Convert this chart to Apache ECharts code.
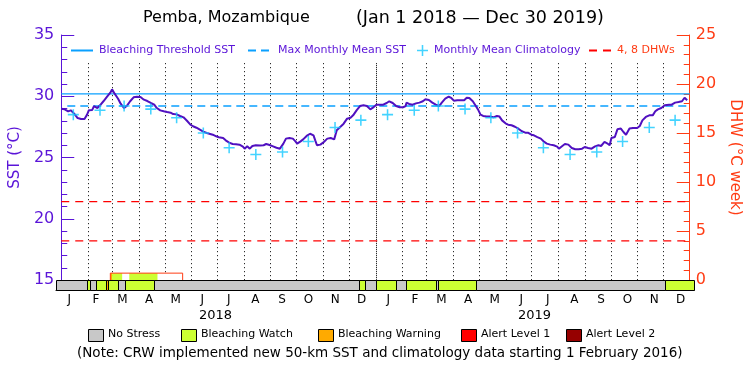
<!DOCTYPE html>
<html>
<head>
<meta charset="utf-8">
<script src="https://cdn.jsdelivr.net/npm/echarts@6/dist/echarts.min.js"></script>
<style>
  html, body { margin: 0; padding: 0; background: #fff; }
  #chart { width: 750px; height: 375px; }
</style>
</head>
<body>
<div id="chart"></div>
<script>
// ---- data ----
// SST samples, day offset from 1 Jan 2018
const sstDays = [0,4,8,11,15,19,23,27,30,32,36,38,42,45,49,53,57,59,62,66,69,73,76,80,84,88,92,96,100,104,108,111,115,119,123,127,130,134,138,142,146,150,153,157,161,165,169,172,176,180,
  183,188,191,195,199,203,207,211,213,216,219,222,226,231,235,238,242,246,250,254,256,258,261,265,269,272,274,278,281,285,289,293,295,297,301,305,309,313,317,319,320,324,328,332,336,339,343,347,351,355,359,362,
  366,370,374,378,381,385,389,393,397,400,401,404,408,412,416,420,423,427,431,435,439,442,446,450,453,456,460,464,468,471,474,478,481,484,487,490,494,498,502,506,509,512,516,519,523,527,531,535,539,542,546,
  549,553,557,561,564,568,572,576,578,582,585,589,593,597,601,605,608,612,616,620,624,627,631,634,637,639,643,646,650,653,656,660,664,669,672,675,679,683,687,690,693,697,701,706,709,713,717,721,724,727];
const sstValues = [28.98,28.93,28.77,28.85,28.58,28.22,28.14,28.14,28.5,28.85,28.88,29.2,29.04,29.26,29.59,29.94,30.29,30.56,30.21,29.8,29.39,29.04,29.2,29.59,29.91,29.96,29.94,29.72,29.61,29.45,29.31,29.04,28.85,28.77,28.71,28.66,28.55,28.52,28.39,28.28,28.0,27.68,27.55,27.43,27.27,27.11,27.0,26.94,26.86,26.73,
  26.65,26.59,26.4,26.21,26.1,26.08,26.05,25.89,25.72,25.91,25.72,25.94,26.0,25.98,26.0,26.1,26.02,25.91,25.8,25.72,25.67,26.13,26.54,26.59,26.54,26.32,26.13,26.32,26.48,26.76,26.94,26.81,26.4,26.0,26.05,26.27,26.54,26.59,26.48,26.4,27.22,27.49,27.76,28.17,28.25,28.44,28.85,29.2,29.26,29.2,28.93,29.07,
  29.31,29.31,29.31,29.45,29.59,29.45,29.2,29.1,29.1,29.2,29.48,29.37,29.31,29.42,29.48,29.59,29.75,29.7,29.48,29.31,29.2,29.48,29.8,29.96,29.86,29.64,29.67,29.67,29.67,29.88,29.86,29.59,29.26,28.93,28.5,28.39,28.34,28.34,28.28,28.39,28.34,28.03,27.79,27.68,27.63,27.51,27.35,27.14,27.03,27.03,26.86,
  26.81,26.67,26.54,26.27,26.13,26.05,26.0,25.89,25.72,25.94,26.1,26.05,25.78,25.67,25.67,25.72,25.86,25.78,25.72,25.91,26.0,25.94,26.27,26.16,26.0,26.59,26.67,27.3,27.36,27.08,26.86,27.36,27.41,27.41,27.57,28.03,28.31,28.44,28.44,28.77,28.93,29.04,29.26,29.31,29.31,29.48,29.53,29.59,29.88,29.67];

// monthly mean climatology (Jan..Dec), plotted mid-month each year
const climMonthly = [28.5, 28.85, 29.2, 28.95, 28.25, 27.0, 25.8, 25.25, 25.45, 26.3, 27.45, 28.05];
const years = [2018, 2019];
const monthLetters = ['J','F','M','A','M','J','J','A','S','O','N','D'];

const mmmValue = 29.2;        // max monthly mean
const thresholdValue = 30.2;  // bleaching threshold
const dhwLevels = [4, 8];

// stress level strip: day ranges and level (0 none, 1 watch, 2 warning, 3 alert1, 4 alert2)
const alertStart = [0,36,39,46,57,59,71,79,112,347,354,366,389,400,435,437,480,697];
const alertEnd   = [36,39,46,57,59,71,79,112,347,354,366,389,400,435,437,480,697,730];
const alertLevel = [0,1,0,1,2,1,0,1,0,1,0,1,0,1,0,1,0,1];
const levelNames = ['No Stress','Bleaching Watch','Bleaching Warning','Alert Level 1','Alert Level 2'];

// degree heating weeks episode
const dhwStart = 57, dhwEnd = 141, dhwValue = 0.7;

// ---- styling ----
const levelColors = ['#c8c8c8','#ccff33','#ffaa00','#ff0000','#960000'];
const purple = '#5a14d8';
const sstColor = '#5010c0';
const blue = '#0aa0ff';
const cyan = '#14c8ff';
const orange = '#ff3c14';
const FONT = 'DejaVu Sans';

const DAY = 86400000;
const t0 = new Date(2018, 0, 1).getTime();
const tEnd = new Date(2020, 0, 1).getTime();
const dayToTime = d => t0 + d * DAY;

const sstData = sstDays.map((d, i) => [dayToTime(d), sstValues[i]]);
const climData = [];
years.forEach(y => climMonthly.forEach((v, m) => climData.push([new Date(y, m, 15).getTime(), v])));
const monthStarts = [];
years.forEach(y => { for (let m = 0; m < 12; m++) if (!(y === 2018 && m === 0)) monthStarts.push([new Date(y, m, 1).getTime(), 15]); });
const monthCats = [];
years.forEach(() => monthLetters.forEach(l => monthCats.push(l)));
const stripData = alertStart.map((s, i) => [dayToTime(s), dayToTime(alertEnd[i]), alertLevel[i]]);

const plusPath = 'path://M4.3,0H5.7V4.3H10V5.7H5.7V10H4.3V5.7H0V4.3H4.3Z';

const chart = echarts.init(document.getElementById('chart'));

const legendBase = (left, name, w, color, showSymbol) => ({
  left: left, top: 45, itemWidth: w, itemHeight: 12, itemGap: 0, padding: 0,
  data: [name],
  itemStyle: showSymbol ? {} : { opacity: 0 },
  textStyle: { fontFamily: FONT, fontSize: 11, color: color, padding: [0, 0, 0, 1] }
});

// bottom legend boxes
const boxLeft = [88, 181, 318, 461, 566];
const legendGraphics = [];
levelNames.forEach((n, i) => {
  legendGraphics.push({ type: 'rect', left: boxLeft[i], top: 329, shape: { width: 15, height: 12 },
    style: { fill: levelColors[i], stroke: '#000', lineWidth: 1 } });
  legendGraphics.push({ type: 'text', left: boxLeft[i] + 20, top: 329,
    style: { text: n, font: '11px "' + FONT + '"', fill: '#000' } });
});
legendGraphics.push({ type: 'text', left: 77, top: 346,
  style: { text: '(Note: CRW implemented new 50-km SST and climatology data starting 1 February 2016)',
    font: '13.5px "' + FONT + '"', fill: '#000' } });

const option = {
  animation: false,
  backgroundColor: '#fff',
  title: [
    { text: 'Pemba, Mozambique', left: 143, top: 10, padding: 0,
      textStyle: { fontFamily: FONT, fontSize: 16, fontWeight: 'normal', color: '#000' } },
    { text: '(Jan 1 2018 \u2014 Dec 30 2019)', left: 356, top: 9, padding: 0,
      textStyle: { fontFamily: FONT, fontSize: 17.5, fontWeight: 'normal', color: '#000' } }
  ],
  legend: [
    legendBase(70, 'Bleaching Threshold SST', 22, purple, false),
    legendBase(247, 'Max Monthly Mean SST', 24, purple, false),
    legendBase(417, 'Monthly Mean Climatology', 11, purple, true),
    legendBase(588, '4, 8 DHWs', 22, orange, false)
  ],
  grid: [
    { left: 56, right: 56, top: 35, height: 245 },
    { left: 56, right: 56, top: 280, height: 10 }
  ],
  xAxis: [
    { type: 'time', gridIndex: 0, min: t0, max: tEnd, position: 'top',
      axisLine: { show: true, lineStyle: { color: '#000', width: 1 } },
      axisTick: { show: false }, axisLabel: { show: false }, splitLine: { show: false } },
    { type: 'time', gridIndex: 1, min: t0, max: tEnd, position: 'bottom',
      axisLine: { show: true, lineStyle: { color: '#000', width: 1 } },
      axisTick: { show: false }, axisLabel: { show: false }, splitLine: { show: false } },
    { type: 'category', gridIndex: 1, position: 'bottom', data: monthCats, boundaryGap: true,
      axisLine: { show: false }, axisTick: { show: false },
      axisLabel: { interval: 0, margin: 4, fontFamily: FONT, fontSize: 12, color: '#000' } },
    { type: 'category', gridIndex: 1, position: 'bottom', offset: 17, data: years.map(String), boundaryGap: true,
      axisLine: { show: false }, axisTick: { show: false },
      axisLabel: { interval: 0, margin: 2, fontFamily: FONT, fontSize: 13, color: '#000' } }
  ],
  yAxis: [
    { type: 'value', gridIndex: 0, min: 15, max: 35, interval: 5, position: 'left',
      name: 'SST (\u00b0C)', nameLocation: 'middle', nameGap: 31, nameRotate: 90,
      nameTextStyle: { fontFamily: FONT, fontSize: 15, color: purple },
      axisLine: { show: true, lineStyle: { color: purple, width: 1 } },
      axisTick: { show: true, inside: true, length: 13, lineStyle: { color: purple } },
      minorTick: { show: true, splitNumber: 5, length: 6, lineStyle: { color: purple } },
      axisLabel: { margin: 7, fontFamily: FONT, fontSize: 16, color: purple },
      splitLine: { show: false } },
    { type: 'value', gridIndex: 0, min: 0, max: 25, interval: 5, position: 'right',
      name: 'DHW (\u00b0C week)', nameLocation: 'middle', nameGap: 29, nameRotate: -90,
      nameTextStyle: { fontFamily: FONT, fontSize: 15, color: orange },
      axisLine: { show: true, lineStyle: { color: orange, width: 1 } },
      axisTick: { show: true, inside: true, length: 13, lineStyle: { color: orange } },
      minorTick: { show: true, splitNumber: 5, length: 6, lineStyle: { color: orange } },
      axisLabel: { margin: 6, fontFamily: FONT, fontSize: 16, color: orange },
      splitLine: { show: false } },
    { type: 'value', gridIndex: 1, min: 0, max: 1, show: false }
  ],
  graphic: legendGraphics,
  series: [
    { // month boundaries
      type: 'custom', xAxisIndex: 0, yAxisIndex: 0, silent: true, z: 1,
      data: monthStarts,
      encode: { x: 0, y: 1 },
      renderItem: (params, api) => {
        const t = api.value(0);
        const a = api.coord([t, 32.7]);
        const b = api.coord([t, 15]);
        const x = Math.round(a[0]) + 0.5;
        const yearLine = new Date(t).getMonth() === 0;
        return { type: 'line', shape: { x1: x, y1: a[1], x2: x, y2: b[1] },
          style: { stroke: '#000', lineWidth: 1, lineDash: yearLine ? [1, 1] : [1, 3] } };
      }
    },
    { // DHW fill coloured by stress level
      type: 'custom', xAxisIndex: 0, yAxisIndex: 1, silent: true, z: 2,
      data: stripData,
      encode: { x: [0, 1] },
      renderItem: (params, api) => {
        const s = Math.max(api.value(0), dayToTime(dhwStart));
        const e = Math.min(api.value(1), dayToTime(dhwEnd));
        if (e <= s) return null;
        const lv = api.value(2);
        const p1 = api.coord([s, dhwValue]);
        const p2 = api.coord([e, 0]);
        return { type: 'rect', shape: { x: p1[0], y: p1[1], width: p2[0] - p1[0], height: p2[1] - p1[1] },
          style: { fill: lv === 0 ? '#fff' : levelColors[lv] } };
      }
    },
    { name: 'DHW', type: 'line', xAxisIndex: 0, yAxisIndex: 1, symbol: 'none', z: 3,
      data: [[dayToTime(dhwStart), 0], [dayToTime(dhwStart), dhwValue], [dayToTime(dhwEnd), dhwValue], [dayToTime(dhwEnd), 0]],
      lineStyle: { color: orange, width: 1 } },
    { name: '4, 8 DHWs', type: 'line', xAxisIndex: 0, yAxisIndex: 1, symbol: 'none', z: 3,
      data: [[t0, dhwLevels[0]], [tEnd, dhwLevels[0]]],
      lineStyle: { color: '#f00', width: 1.2, type: [8, 6] }, itemStyle: { color: '#f00' } },
    { name: '4, 8 DHWs', type: 'line', xAxisIndex: 0, yAxisIndex: 1, symbol: 'none', z: 3,
      data: [[t0, dhwLevels[1]], [tEnd, dhwLevels[1]]],
      lineStyle: { color: '#f00', width: 1.2, type: [8, 6] }, itemStyle: { color: '#f00' } },
    { name: 'Bleaching Threshold SST', type: 'line', xAxisIndex: 0, yAxisIndex: 0, symbol: 'none', z: 3,
      data: [[t0, thresholdValue], [tEnd, thresholdValue]],
      lineStyle: { color: blue, width: 1.3 }, itemStyle: { color: blue } },
    { name: 'Max Monthly Mean SST', type: 'line', xAxisIndex: 0, yAxisIndex: 0, symbol: 'none', z: 3,
      data: [[dayToTime(7), mmmValue], [dayToTime(727), mmmValue]],
      lineStyle: { color: blue, width: 1.5, type: [8, 5] }, itemStyle: { color: blue } },
    { name: 'SST', type: 'line', xAxisIndex: 0, yAxisIndex: 0, symbol: 'none', z: 4,
      data: sstData, lineStyle: { color: sstColor, width: 2 } },
    { name: 'Monthly Mean Climatology', type: 'scatter', xAxisIndex: 0, yAxisIndex: 0, z: 5,
      symbol: plusPath, symbolSize: 11, data: climData, itemStyle: { color: cyan } },
    { // stress level strip
      type: 'custom', xAxisIndex: 1, yAxisIndex: 2, silent: true,
      data: stripData,
      encode: { x: [0, 1], y: 2 },
      renderItem: (params, api) => {
        const p1 = api.coord([api.value(0), 1]);
        const p2 = api.coord([api.value(1), 0]);
        return { type: 'rect',
          shape: { x: Math.round(p1[0]) + 0.5, y: Math.round(p1[1]) + 0.5,
            width: Math.round(p2[0]) - Math.round(p1[0]), height: Math.round(p2[1]) - Math.round(p1[1]) },
          style: { fill: levelColors[api.value(2)], stroke: '#000', lineWidth: 1 } };
      }
    }
  ]
};
chart.setOption(option);
</script>
</body>
</html>
